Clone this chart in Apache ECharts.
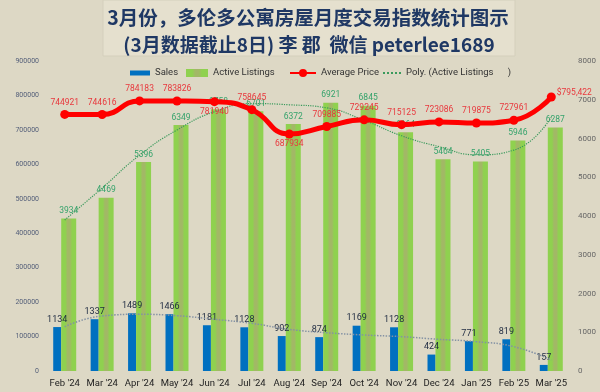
<!DOCTYPE html>
<html>
<head>
<meta charset="utf-8">
<script src="https://cdn.jsdelivr.net/npm/echarts@6/dist/echarts.min.js"></script>
<style>html,body{margin:0;padding:0;background:#ddd8c5;}#c{width:600px;height:392px;}</style>
</head>
<body>
<div id="c"></div>
<script>
var categories = ["Feb '24","Mar '24","Apr '24","May '24","Jun '24","Jul '24","Aug '24","Sep '24","Oct '24","Nov '24","Dec '24","Jan '25","Feb '25","Mar '25"];
var sales = [1134,1337,1489,1466,1181,1128,902,874,1169,1128,424,771,819,157];
var activeListings = [3934,4469,5396,6349,6758,6701,6372,6921,6845,6164,5464,5405,5946,6287];
var averagePrice = [744921,744616,784183,783826,781940,758645,687934,709885,729245,715125,723086,719875,727961,795422];
// trend lines at each month
var listingsTrend = [3897,4720,5570,6220,6690,6900,6870,6790,6470,6070,5790,5580,5700,6550];
var salesTrend = [1143,1419,1463,1427,1334,1230,1075,988,929,886,817,757,628,284];
var leftTicks = [0,900000,100000];
var rightTicks = [0,8000,1000];
var priceLabelPos = ['top','top','top','top','bottom','top','bottom','top','top','top','top','top','top','right'];

var chart = echarts.init(document.getElementById('c'));
var FONT = 'Roboto, "Noto Sans", sans-serif';
var greenGrad = new echarts.graphic.LinearGradient(0,0,1,0,[
  {offset:0,color:'#8fd14f'},{offset:0.28,color:'#8fd14f'},
  {offset:0.42,color:'#a2b866'},{offset:0.58,color:'#a2b866'},
  {offset:0.72,color:'#8fd14f'},{offset:1,color:'#8fd14f'}]);

var priceData = averagePrice.map(function(v,i){
  var lab = {position: priceLabelPos[i]};
  if (i === averagePrice.length-1) { lab.formatter = '$795,422'; lab.distance = 1; lab.offset=[0,-4]; }
  if (priceLabelPos[i]==='bottom') { lab.distance = 1; }
  return {value: v, label: lab};
});

chart.setOption({
  backgroundColor: '#ddd8c5',
  textStyle: {fontFamily: FONT},
  graphic: [
    {type:'rect', shape:{x:103,y:0,width:412,height:56}, style:{fill:'#e5e0ce', stroke:'#d4cfbc', lineWidth:1}, z:0},
    {type:'text', style:{x:308, y:18, text:'3月份，多伦多公寓房屋月度交易指数统计图示', textAlign:'center', textVerticalAlign:'middle', fill:'#1f3864', font:'bold 19.5px "Noto Sans CJK SC", sans-serif'}},
    {type:'text', style:{x:309, y:45, text:'(3月数据截止8日) 李 郡  微信 peterlee1689', textAlign:'center', textVerticalAlign:'middle', fill:'#1f3864', font:'bold 19px "Noto Sans CJK SC", sans-serif'}}
  ],
  legend: [
    {data:[{name:'Sales',icon:'rect'}], left:125, top:63, itemWidth:20, itemHeight:5, textStyle:{fontSize:9.5,color:'#333',fontFamily:FONT}},
    {data:[{name:'Active Listings',icon:'rect'}], left:181, top:63, itemWidth:22, itemHeight:8, textStyle:{fontSize:9.5,color:'#333',fontFamily:FONT}},
    {data:['Average Price'], left:284, top:63, itemWidth:26, itemHeight:10, textStyle:{fontSize:9.5,color:'#333',fontFamily:FONT}},
    {data:['Poly. (Active Listings      )'], left:377, top:63, itemWidth:18, itemHeight:9,
     itemStyle:{opacity:0}, textStyle:{fontSize:9.5,color:'#333',fontFamily:FONT}}
  ],
  grid: {left:46, right:30, top:61, bottom:21},
  xAxis: {
    type:'category', data:categories, boundaryGap:true,
    axisLine:{show:false}, axisTick:{show:false},
    axisLabel:{fontSize:9.5, color:'#222', margin:8, fontFamily:FONT, interval:0}
  },
  yAxis: [
    {type:'value', min:leftTicks[0], max:leftTicks[1], interval:leftTicks[2], position:'left',
     axisLine:{show:false}, axisTick:{show:false}, splitLine:{show:false},
     axisLabel:{fontSize:7, color:'#55607a', margin:7, fontFamily:FONT, formatter:function(v){return String(v);}}},
    {type:'value', min:rightTicks[0], max:rightTicks[1], interval:rightTicks[2], position:'right',
     axisLine:{show:false}, axisTick:{show:false}, splitLine:{show:false},
     axisLabel:{fontSize:8, color:'#666', margin:8, fontFamily:FONT, formatter:function(v){return String(v);}}}
  ],
  series: [
    {name:'Sales', type:'bar', yAxisIndex:1, data:sales, barWidth:8, barGap:'0%', z:2,
     itemStyle:{color:'#0070c0'},
     label:{show:true, position:'top', distance:3, fontSize:9, color:'#1e2a40', fontFamily:FONT}},
    {name:'Active Listings', type:'bar', yAxisIndex:1, data:activeListings, barWidth:15, barGap:'0%', z:2,
     itemStyle:{color:greenGrad},
     label:{show:true, position:'top', distance:3, fontSize:8.5, color:'#36a36c', fontFamily:FONT}},
    {name:'Sales trend', type:'line', yAxisIndex:1, data:salesTrend, smooth:true, symbol:'none', z:3,
     lineStyle:{color:'#8492a4', width:1.5, type:'dotted'}, silent:true},
    {name:'Poly. (Active Listings      )', type:'line', yAxisIndex:1, data:listingsTrend, smooth:true, symbol:'none', z:3,
     lineStyle:{color:'#3a9a5c', width:1.2, type:'dotted'}, itemStyle:{color:'#3a9a5c'}},
    {name:'Average Price', type:'line', yAxisIndex:0, data:priceData, smooth:true, z:4,
     symbol:'circle', symbolSize:9,
     lineStyle:{color:'#ff0000', width:5}, itemStyle:{color:'#ff0000'},
     label:{show:true, distance:3, fontSize:8.5, color:'#e8383d', fontFamily:FONT}}
  ]
});
</script>
</body>
</html>
